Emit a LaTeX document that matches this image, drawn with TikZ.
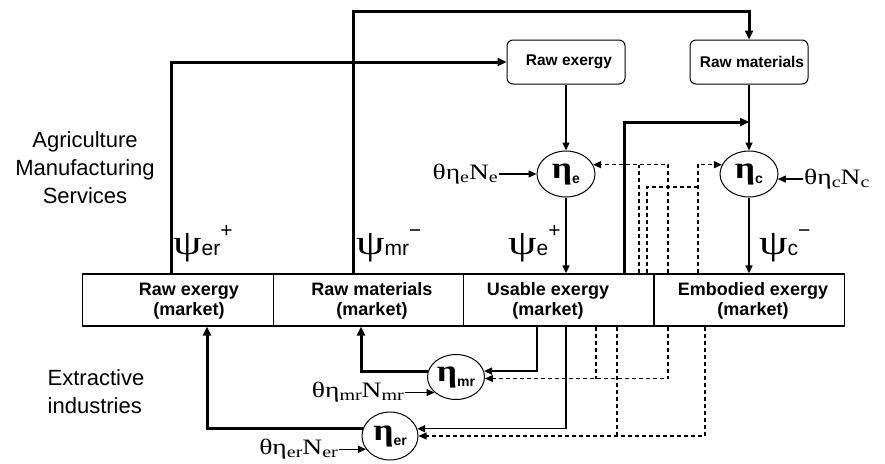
\documentclass[tikz,border=0pt]{standalone}
\usepackage{fontspec}
\setmainfont{Liberation Sans}
\newfontfamily\thfont[FakeStretch=1.25]{Liberation Serif}
\newfontfamily\grbold[FakeStretch=1.15]{Liberation Serif}
\newfontfamily\psifont[FakeStretch=1.3]{Liberation Serif}
\usetikzlibrary{arrows.meta,shapes.geometric}
\newcommand\sbs[1]{\raisebox{-3pt}{\fontsize{16}{16}\selectfont #1}}
\newcommand\thlabel[2]{\thfont\fontsize{22}{22}\selectfont θη\sbs{#1}N\sbs{#2}}
\newcommand\etalab[1]{{\grbold\bfseries\fontsize{31}{31}\selectfont η}\raisebox{-5pt}{\fontsize{14}{14}\selectfont\bfseries #1}}
\newcommand\psilab[2]{{\psifont\fontsize{35}{35}\selectfont ψ}\raisebox{-1pt}{\fontsize{21}{21}\selectfont #1}\raisebox{17pt}{\fontsize{21}{21}\selectfont #2}}
\tikzset{
  mktbox/.style={draw, line width=1.3pt, minimum width=190.5pt, minimum height=52pt, inner sep=0pt},
  mkttext/.style={font=\fontsize{18}{20.5}\selectfont\bfseries, align=center, inner sep=0pt},
  topbox/.style={draw, rounded corners=6pt, line width=1pt, minimum width=118pt, minimum height=44pt, inner sep=0pt, font=\fontsize{15.5}{17}\selectfont\bfseries},
  etanode/.style={draw, ellipse, line width=1pt, minimum width=58pt, minimum height=46pt, inner sep=0pt},
  sidetext/.style={font=\fontsize{22}{28}\selectfont, inner sep=0pt},
  thickline/.style={line width=3pt},
  thinline/.style={line width=1.5pt},
  dashline/.style={line width=1.2pt, dash pattern=on 4pt off 3pt},
  arr/.style={-{Triangle[length=9pt,width=8pt]}},
  sarr/.style={-{Triangle[length=8pt,width=7pt]}}
}
\begin{document}
\begin{tikzpicture}[x=1pt,y=-1pt]
\useasboundingbox (0,0) rectangle (885,463);

% market boxes
\node[mktbox] (mktRE) at (178,300) {};
\node[mktbox] (mktRM) at (368.5,300) {};
\node[mktbox] (mktUE) at (558.5,300) {};
\node[mktbox] (mktEE) at (749.5,300) {};
\node[mkttext] (tRE) at (189,301) {Raw exergy\\(market)};
\node[mkttext] (tRM) at (372,301) {Raw materials\\(market)};
\node[mkttext] (tUE) at (548,301) {Usable exergy\\(market)};
\node[mkttext] (tEE) at (753,301) {Embodied exergy\\(market)};

% top boxes
\node[topbox] (boxRE) at (566,62) {\hspace*{6pt}Raw exergy};
\node[topbox] (boxRM) at (749,62) {\hspace*{6pt}Raw materials};

% eta nodes
\node[etanode] (etae) at (566,174) {\etalab{e}};
\node[etanode] (etac) at (749,174) {\etalab{c}};
\node[etanode, minimum width=57pt, minimum height=45pt] (etamr) at (456,377) {\etalab{mr}};
\node[etanode, minimum width=56pt, minimum height=48pt] (etaer) at (390,436) {\etalab{er}};

% side texts
\node[sidetext, align=center] (agri) at (85,168) {Agriculture\\Manufacturing\\Services};
\node[sidetext, align=left] (extr) at (96,392) {Extractive\\industries};

% psi labels
\node[anchor=base west, inner sep=0pt] (psier) at (173,254) {\psilab{er}{+}};
\node[anchor=base west, inner sep=0pt] (psimr) at (356,254) {\psilab{mr}{−}};
\node[anchor=base west, inner sep=0pt] (psie) at (508,254) {\psilab{e}{+}};
\node[anchor=base west, inner sep=0pt] (psic) at (759,254) {\psilab{c}{−}};

% theta labels
\node[anchor=east, inner sep=1pt] (the) at (499,174) {\thlabel{e}{e}};
\node[anchor=west, inner sep=1pt] (thc) at (803,179) {\thlabel{c}{c}};
\node[anchor=east, inner sep=1pt] (thmr) at (405,392) {\thlabel{mr}{mr}};
\node[anchor=east, inner sep=1pt] (ther) at (339,449) {\thlabel{er}{er}};

% thick connectors
\draw[thickline, arr] (mktRE.north -| 171,0) |- (boxRE.west);
\coordinate (topc) at (353,11);
\draw[thickline, arr] (mktRM.north -| topc) -- (topc) -| (boxRM.north);
\draw[thickline, arr] (mktUE.north -| 624,0) |- (etac.north |- 0,122);
\draw[thickline, arr] (etamr.168) -| (mktRM.south -| 361,0);
\draw[thickline, arr] (etaer.165) -| (mktRE.south -| 207,0);

% thin connectors
\draw[thinline, sarr] (boxRE) -- (etae);
\draw[thinline, sarr] (boxRM) -- (etac);
\draw[thinline, sarr] (etae) -- (etae |- mktUE.north);
\draw[thinline, sarr] (etac) -- (etac |- mktEE.north);
\draw[thinline, sarr] (mktUE.south -| 537,0) |- (etamr.12);
\draw[thinline, sarr] (mktUE.south -| 566,0) |- (etaer.15);

% theta inputs
\draw[line width=1.2pt, sarr] (the.east |- etae.west) -- (etae.west);
\draw[line width=1.2pt, sarr] (thc.west |- etac.-10) -- (etac.-10);
\draw[line width=1.2pt, sarr] (thmr.east |- etamr.216) -- (etamr.216);
\draw[line width=1.2pt, sarr] (ther.east |- etaer.209) -- (etaer.209);

% dashed feedbacks
\draw[dashline, sarr] (mktEE.north -| 668,0) |- (etae.19);
\draw[dashline] (mktUE.north -| 639,0) -- (etae.19 -| 639,0);
\draw[dashline, sarr] (mktEE.north -| 698,0) |- (etac.161);
\coordinate (j1) at (698,187);
\draw[dashline] (mktUE.north -| 647,0) |- (j1);
\draw[dashline, sarr] (mktEE.south -| 668,0) |- (etamr.-3);
\draw[dashline] (mktUE.south -| 596,0) -- (etamr.-3 -| 596,0);
\draw[dashline, sarr] (mktEE.south -| 705,0) |- (etaer.east);
\draw[dashline] (mktUE.south -| 617,0) -- (etaer.east -| 617,0);
\end{tikzpicture}
\end{document}
